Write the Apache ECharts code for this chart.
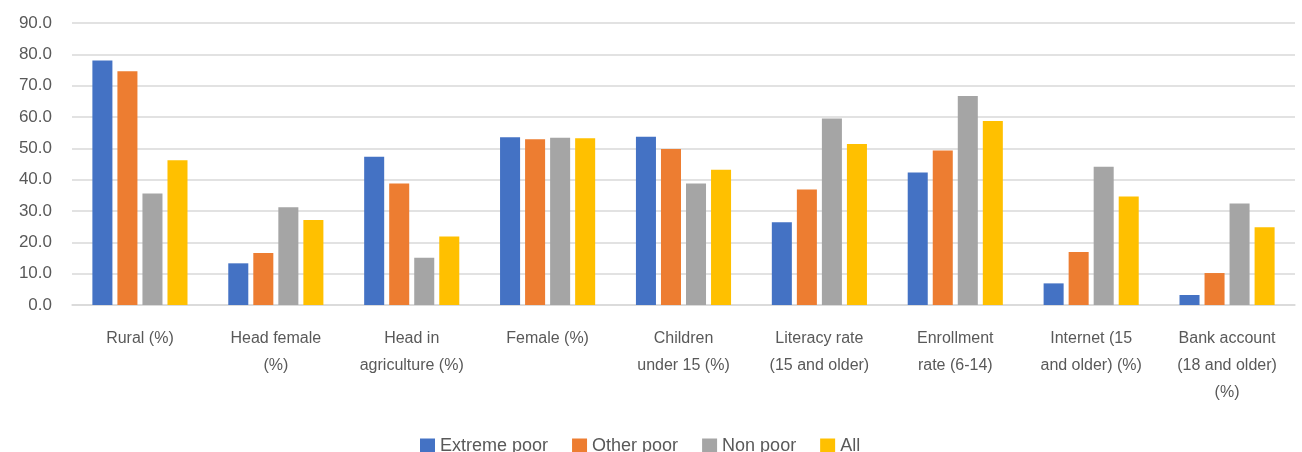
<!DOCTYPE html>
<html>
<head>
<meta charset="utf-8">
<script src="https://cdn.jsdelivr.net/npm/echarts@6/dist/echarts.min.js"></script>
<style>
html,body{margin:0;padding:0;background:#fff;}
#chart{width:1302px;height:452px;}
</style>
</head>
<body>
<div id="chart"></div>
<script>
var categories = [
  "Rural (%)",
  "Head female\n(%)",
  "Head in\nagriculture (%)",
  "Female (%)",
  "Children\nunder 15 (%)",
  "Literacy rate\n(15 and older)",
  "Enrollment\nrate (6-14)",
  "Internet (15\nand older) (%)",
  "Bank account\n(18 and older)\n(%)"
];
var seriesNames = ["Extreme poor", "Other poor", "Non poor", "All"];
var extremePoor = [78.0, 13.3, 47.3, 53.5, 53.7, 26.4, 42.3, 6.9, 3.2];
var otherPoor   = [74.6, 16.6, 38.8, 52.9, 49.8, 36.9, 49.3, 16.9, 10.2];
var nonPoor     = [35.6, 31.2, 15.1, 53.4, 38.8, 59.5, 66.7, 44.1, 32.4];
var allPop      = [46.2, 27.1, 21.9, 53.2, 43.2, 51.4, 58.7, 34.6, 24.8];
var yTicks = { min: 0, max: 90, interval: 10 };
var colors = ["#4472C4", "#ED7D31", "#A5A5A5", "#FFC000"];

var values = [extremePoor, otherPoor, nonPoor, allPop];
var chart = echarts.init(document.getElementById('chart'), null, {renderer: 'canvas'});
var font = "'Liberation Sans', Arial, sans-serif";
chart.setOption({
  animation: false,
  color: colors,
  grid: { left: 72, right: 7, top: 23, bottom: 147, containLabel: false },
  legend: {
    data: seriesNames,
    left: 415,
    top: 432,
    itemWidth: 15,
    itemHeight: 15,
    itemGap: 24,
    icon: 'rect',
    textStyle: { fontFamily: font, fontSize: 18, color: '#595959' }
  },
  xAxis: {
    type: 'category',
    data: categories,
    axisLine: { show: true, lineStyle: { color: '#d9d9d9', width: 1.5 } },
    axisTick: { show: false },
    axisLabel: {
      interval: 0,
      margin: 20,
      fontFamily: font,
      fontSize: 16,
      lineHeight: 27,
      color: '#595959'
    }
  },
  yAxis: {
    type: 'value',
    min: yTicks.min,
    max: yTicks.max,
    interval: yTicks.interval,
    axisLine: { show: false },
    axisTick: { show: false },
    splitLine: { lineStyle: { color: '#d9d9d9', width: 1.5 } },
    axisLabel: {
      margin: 20,
      fontFamily: font,
      fontSize: 17,
      color: '#595959',
      formatter: function (v) { return v.toFixed(1); }
    }
  },
  series: seriesNames.map(function (n, i) {
    return {
      name: n,
      type: 'bar',
      data: values[i],
      barGap: '25%',
      barCategoryGap: '30%'
    };
  })
});
</script>
</body>
</html>
